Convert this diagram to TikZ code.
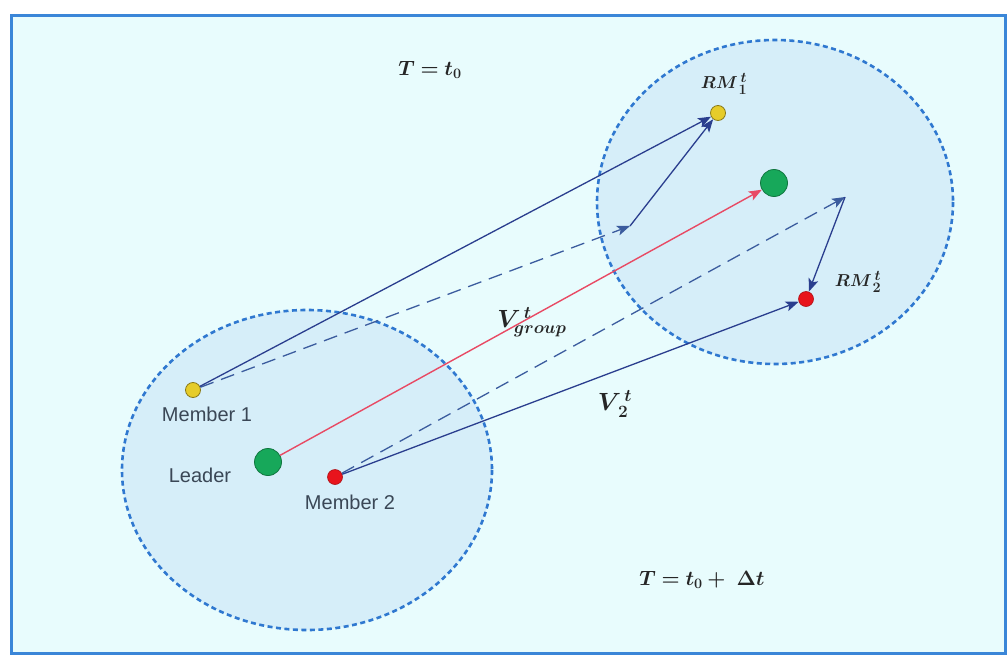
\documentclass[tikz,border=0pt]{standalone}
\usepackage{amsmath}
\usepackage{bm}
\usepackage{fontspec}
\setsansfont{Liberation Sans}
\usetikzlibrary{arrows.meta}
\definecolor{bgc}{HTML}{E8FCFD}
\definecolor{framec}{HTML}{3A86D8}
\definecolor{circfill}{HTML}{D6EEF9}
\definecolor{circline}{HTML}{2F78D0}
\definecolor{arrc}{HTML}{2A3E8E}
\definecolor{dashc}{HTML}{3B5C9E}
\definecolor{redc}{HTML}{E84A64}
\definecolor{labc}{HTML}{3A4756}
\definecolor{yel}{HTML}{E6CC2A}
\definecolor{grn}{HTML}{17A85A}
\definecolor{rd}{HTML}{E8141C}
\tikzset{
  grp/.style={draw=circline, line width=2.6pt, fill=circfill, dash pattern=on 5pt off 3.5pt},
  dotY/.style={circle, draw=yel!60!black, fill=yel, line width=0.8pt, minimum size=15pt, inner sep=0pt},
  dotR/.style={circle, draw=rd!75!black, fill=rd, line width=0.6pt, minimum size=15pt, inner sep=0pt},
  dotG/.style={circle, draw=grn!70!black, fill=grn, line width=0.8pt, minimum size=27pt, inner sep=0pt},
  tip/.style={-{Stealth[length=13pt,width=10pt,inset=3pt]}},
  solidarr/.style={draw=arrc, line width=1.3pt, tip},
  dasharr/.style={draw=dashc, line width=1.3pt, dash pattern=on 14pt off 8pt, tip},
  redarr/.style={draw=redc, line width=1.4pt, tip},
  lab/.style={text=labc, font=\sffamily\fontsize{20}{24}\selectfont, inner sep=0pt},
  mth/.style={text=black!85, inner sep=0pt},
}
\begin{document}
\begin{tikzpicture}[x=1pt,y=-1pt]
\useasboundingbox (0,0) rectangle (1008,655);
\fill[white] (0,0) rectangle (1008,655);
\draw[draw=framec, line width=3pt, fill=bgc] (11,16) rectangle (1005,653);
% group circles
\draw[grp] (307,470) ellipse [x radius=185, y radius=160];
\draw[grp] (775,202) ellipse [x radius=178, y radius=162];
% nodes
\node[dotY] (m1) at (193,390) {};
\node[dotG] (ld) at (268,462) {};
\node[dotR] (m2) at (335,477) {};
\node[dotY] (rm1) at (718,113) {};
\node[dotG] (ld2) at (774,183) {};
\node[dotR] (rm2) at (806,299) {};
\coordinate (p1) at (630,226);
\coordinate (p2) at (845,197);
% labels
\node[lab] (lm1) at (207,414) {Member 1};
\node[lab] (lld) at (200,475) {Leader};
\node[lab] (lm2) at (350,502) {Member 2};
\node[mth] (lrm1) at (724,84) {\fontsize{19}{22}\selectfont$\bm{RM^{\,t}_{\,1}}$};
\node[mth] (lrm2) at (858,282) {\fontsize{19}{22}\selectfont$\bm{RM^{\,t}_{\,2}}$};
\node[mth] (lvg) at (532,322) {\fontsize{27}{30}\selectfont$\bm{V^{\,t}_{group}}$};
\node[mth] (lv2) at (615,404) {\fontsize{27}{30}\selectfont$\bm{V^{\,t}_{\,2}}$};
\node[mth] (lt0) at (430,70) {\fontsize{22}{26}\selectfont$\bm{T=t_0}$};
\node[mth] (lt1) at (702,580) {\fontsize{21}{24}\selectfont$\bm{T=t_0+\ \Delta t}$};
% arrows
\draw[dasharr] (m1) -- (p1);
\draw[solidarr] (m1) -- (rm1);
\draw[solidarr] (p1) -- (rm1);
\draw[redarr] (ld) -- (ld2);
\draw[dasharr] (m2) -- (p2);
\draw[solidarr] (m2) -- (rm2);
\draw[solidarr] (p2) -- (rm2);
\end{tikzpicture}
\end{document}
